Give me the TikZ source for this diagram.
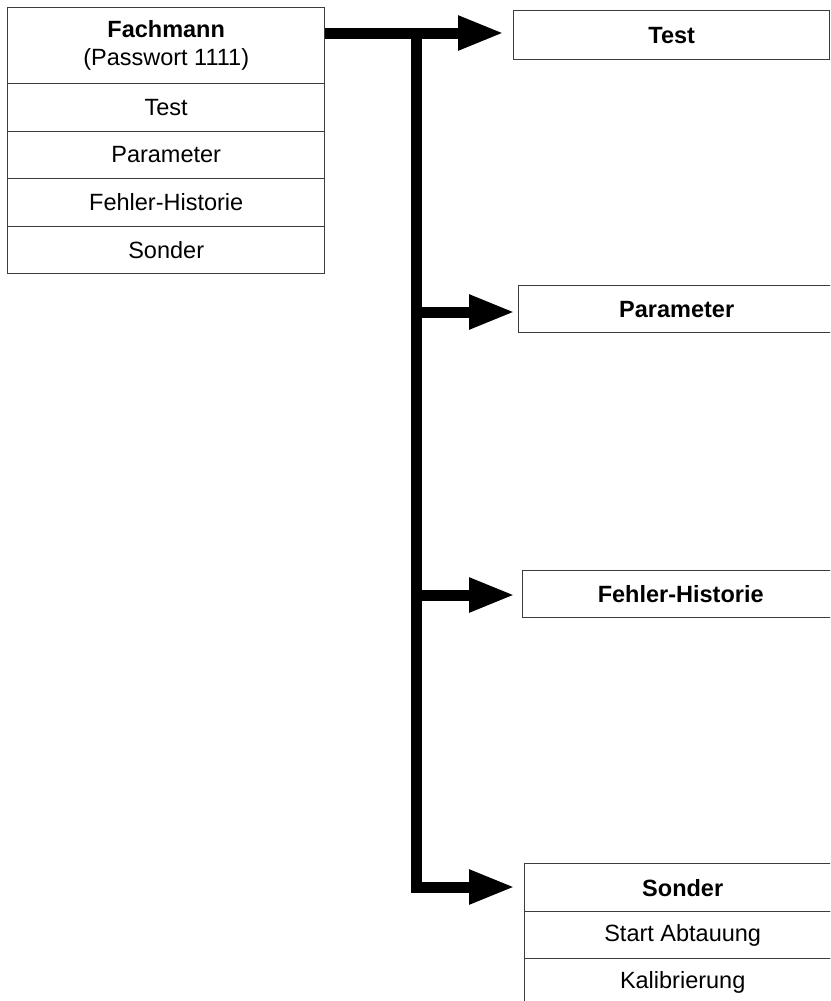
\documentclass[tikz,border=0pt]{standalone}
\usepackage{fontspec}
\setmainfont{Liberation Sans}
\usetikzlibrary{arrows.meta}
\definecolor{boxline}{RGB}{60,60,60}
\begin{document}
\begin{tikzpicture}[x=1pt,y=-1pt,
  cell/.style={draw=boxline,line width=1.4pt,fill=white,minimum width=316pt,minimum height=48pt,inner sep=0pt,anchor=north west,font=\fontsize{23.5}{28}\selectfont},
  bigarrow/.style={line width=11pt,-{Triangle[length=46pt,width=32pt]}},
  trunk/.style={line width=11pt}]
\clip (0,0) rectangle (830,1001);
\fill[white] (0,0) rectangle (830,1001);
% left menu
\node[cell,minimum height=76pt,minimum width=317pt,align=center] (fm) at (7,7) {\textbf{Fachmann}\\(Passwort 1111)};
\node[cell,minimum width=317pt,minimum height=47.5pt] (ft) at (7,83) {Test};
\node[cell,minimum width=317pt,minimum height=47.5pt] (fp) at (7,130.5) {Parameter};
\node[cell,minimum width=317pt,minimum height=47.5pt] (ff) at (7,178) {Fehler-Historie};
\node[cell,minimum width=317pt,minimum height=47.5pt] (fs) at (7,225.5) {Sonder};
% right boxes
\node[cell,minimum height=49pt] (test) at (513,10) {\textbf{Test}};
\node[cell,minimum height=47pt] (param) at (518,285) {\textbf{Parameter}};
\node[cell,minimum height=47pt] (fehler) at (522,570) {\textbf{Fehler-Historie}};
\node[cell] (sonder) at (524,863) {\textbf{Sonder}};
\node[cell,minimum height=47pt] (start) at (524,911) {Start Abtauung};
\node[cell] (kalib) at (524,958) {Kalibrierung};
% connectors
\coordinate (top) at (416,33);
\coordinate (c2) at (416,312);
\coordinate (c3) at (416,595);
\coordinate (c4) at (416,887);
\draw[bigarrow,shorten >=9pt] (fm.east |- top) -- (test.west |- top);
\draw[trunk] (416,33) -- (416,892.5);
\draw[bigarrow,shorten >=3pt] (c2) -- (param.west |- c2);
\draw[bigarrow,shorten >=7pt] (c3) -- (fehler.west |- c3);
\draw[bigarrow,shorten >=9pt] ([xshift=-5.5pt]c4) -- (sonder.west |- c4);
\end{tikzpicture}
\end{document}
